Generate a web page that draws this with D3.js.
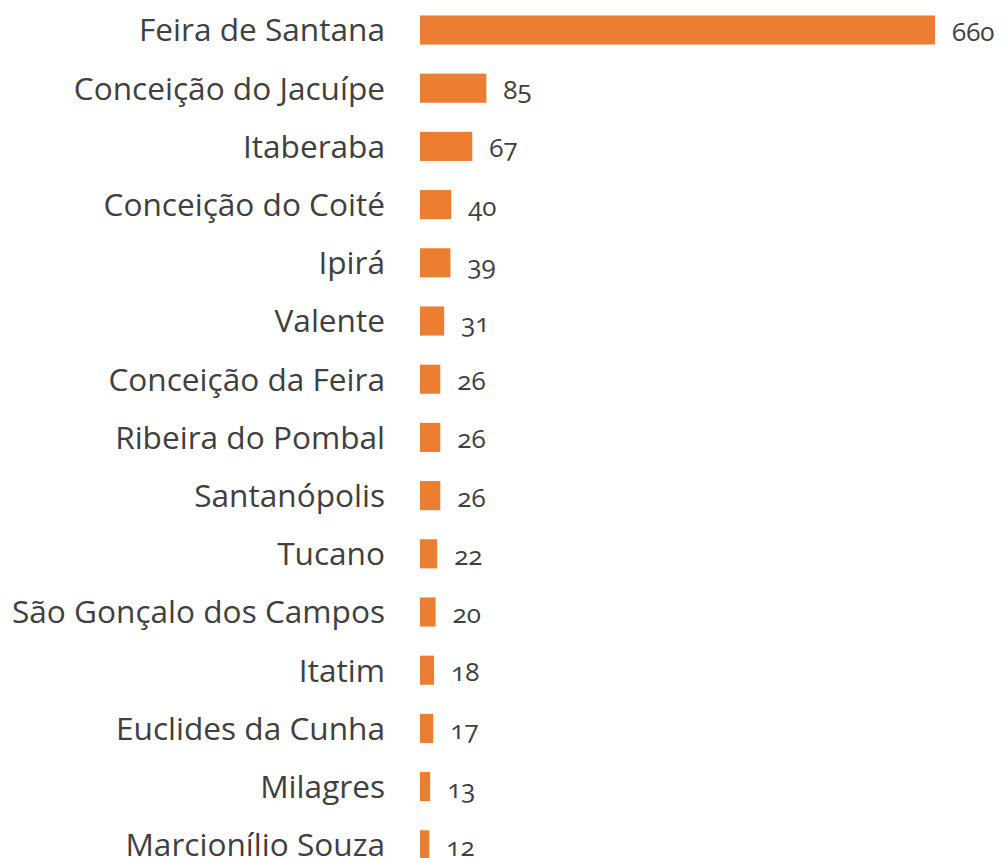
<!DOCTYPE html>
<html>
<head>
<meta charset="utf-8">
<script src="https://cdn.jsdelivr.net/npm/d3@7"></script>
<style>
  html, body { margin: 0; padding: 0; background: #ffffff; overflow: hidden; }
  svg { display: block; }
</style>
</head>
<body>
<svg id="chart" width="1003" height="858"></svg>
<script>
// Municipalities and their counts
const municipios = [
  "Feira de Santana", "Conceição do Jacuípe", "Itaberaba", "Conceição do Coité",
  "Ipirá", "Valente", "Conceição da Feira", "Ribeira do Pombal", "Santanópolis",
  "Tucano", "São Gonçalo dos Campos", "Itatim", "Euclides da Cunha", "Milagres",
  "Marcionílio Souza"
];
const valores = [660, 85, 67, 40, 39, 31, 26, 26, 26, 22, 20, 18, 17, 13, 12];

const svg = d3.select("#chart");

const x = d3.scaleLinear().domain([0, 660]).range([420, 935]);
const y = d3.scaleBand().domain(municipios).range([0.9, 873.9]).paddingInner(0.5).paddingOuter(0.25);

const rows = municipios.map((m, i) => ({ m, v: valores[i] }));

// Bars
svg.selectAll("rect.bar").data(rows).join("rect")
  .attr("class", "bar")
  .attr("x", x(0))
  .attr("y", d => y(d.m))
  .attr("width", d => x(d.v) - x(0))
  .attr("height", y.bandwidth())
  .attr("fill", "#ED7D31");

// Category labels
svg.selectAll("text.cat").data(rows).join("text")
  .attr("class", "cat")
  .attr("x", 385)
  .attr("y", d => y(d.m) + y.bandwidth() / 2)
  .attr("dy", "0.36em")
  .attr("text-anchor", "end")
  .attr("font-family", "'Open Sans', sans-serif")
  .attr("font-size", 31.6)
  .attr("fill", "#404040")
  .text(d => d.m);

// Value labels
svg.selectAll("text.val").data(rows).join("text")
  .attr("class", "val")
  .attr("x", d => x(d.v) + 17)
  .attr("y", d => y(d.m) + y.bandwidth() / 2)
  .attr("dy", "0.42em")
  .attr("font-family", "'Open Sans', sans-serif")
  .attr("font-size", 26)
  .style("font-variant-numeric", "oldstyle-nums")
  .attr("fill", "#404040")
  .text(d => d.v);
</script>
</body>
</html>
